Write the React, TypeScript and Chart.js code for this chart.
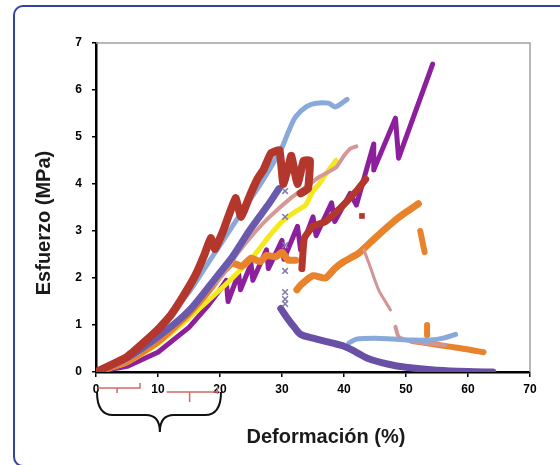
import React, { useEffect, useRef } from "react";
import { Chart, registerables } from "chart.js";
Chart.register(...registerables);

const xTicks = [0, 10, 20, 30, 40, 50, 60, 70];
const yTicks = [0, 1, 2, 3, 4, 5, 6, 7];
const xTitle = "Deformación (%)";
const yTitle = "Esfuerzo (MPa)";

// [deformación %, esfuerzo MPa]
const redMain = [[0, 0], [5, 0.32], [10, 0.9], [12, 1.2], [14, 1.6], [16, 2.05], [17.5, 2.5], [18.5, 2.85], [19.2, 2.62], [20.5, 3.0], [22.5, 3.7], [23.4, 3.3], [24.8, 3.75], [26, 4.1], [27, 4.3], [28.2, 4.65], [29.6, 4.72], [30.2, 4.0], [31, 4.35], [31.5, 4.6], [32.5, 4.0], [33.5, 4.5], [34.5, 4.5], [34.2, 3.9], [33, 3.8]];
const redUpper = [[33.2, 2.2], [33.6, 2.85], [35, 3.1], [37, 3.2], [39.5, 3.5], [42, 3.85], [43.5, 4.1]];
const redDot = [[42.9, 3.32]];
const violetMain = [[0, 0], [5, 0.3], [10, 0.75], [15, 1.3], [19, 1.95], [22, 2.45], [24.7, 3.0], [28, 3.6], [29.5, 3.9]];
const violetMarks = [[30.5, 3.85], [30.5, 3.3], [30.5, 2.7], [30.5, 2.15], [30.5, 1.7], [30.5, 1.55], [30.5, 1.45]];
const violetLow = [[29.8, 1.35], [31, 1.12], [32, 0.95], [33, 0.8], [35, 0.72], [38, 0.62], [40, 0.55], [42, 0.42], [44, 0.28], [47, 0.17], [50, 0.1], [55, 0.04], [60, 0.01], [64, 0]];
const blueMain = [[0, 0], [5, 0.35], [10, 0.95], [15, 1.7], [17, 2.1], [20, 2.7], [23.5, 3.4], [27, 4.1], [29.9, 4.75], [31, 5.1], [32.2, 5.43], [34, 5.65], [35.5, 5.72], [37.5, 5.72], [38.6, 5.64], [40.5, 5.8]];
const blueLow = [[40.8, 0.62], [42, 0.7], [45, 0.72], [48, 0.7], [51, 0.68], [54, 0.68], [56, 0.72], [58, 0.8]];
const pinkMain = [[0, 0], [5, 0.25], [10, 0.72], [15, 1.35], [20, 2.0], [23, 2.55], [25.8, 3.0], [28, 3.3], [31.6, 3.72], [34, 3.95], [36, 4.15], [38.7, 4.35], [40, 4.6], [41, 4.75], [42, 4.8]];
const pinkDrop = [[43.2, 2.6], [44, 2.32], [45.6, 1.74], [47.5, 1.32]];
const pinkTail = [[48.3, 0.96], [48.8, 0.75], [50, 0.68], [51.5, 0.64], [54, 0.6], [56.3, 0.57]];
const orangeMain = [[0, 0], [5, 0.22], [10, 0.65], [15, 1.25], [18, 1.7], [20, 2.05], [21, 2.2], [22, 2.32], [23.5, 2.25], [25, 2.42], [26.5, 2.35], [27.5, 2.48], [29, 2.45], [30, 2.55], [31, 2.38], [32.2, 2.38]];
const orangeMid = [[32.4, 1.75], [33, 1.85], [35, 2.05], [37, 2.0], [38.5, 2.2], [40, 2.35], [42.4, 2.53], [45, 2.85], [48, 3.2], [50, 3.4], [52, 3.58]];
const orangeDrop = [[52.3, 3.0], [53, 2.55]];
const orangeDot = [[53.4, 1.0], [53.4, 0.78]];
const orangeTail = [[51, 0.66], [54, 0.6], [57, 0.54], [60, 0.48], [62.5, 0.42]];
const yellowMain = [[0, 0], [5, 0.2], [10, 0.6], [15, 1.15], [20, 1.75], [22, 2.0], [25, 2.4], [28, 2.9], [30, 3.2], [32, 3.4], [33.8, 3.55], [35, 3.85], [36, 4.0], [37, 4.2], [38.7, 4.5]];
const purpleMain = [[0, 0], [5, 0.12], [10, 0.42], [15, 0.95], [18, 1.4], [20, 1.75], [21, 1.95], [21.3, 1.5], [23, 2.1], [23.3, 1.75], [25, 2.3], [25.3, 1.95], [27.5, 2.6], [27.8, 2.2], [30, 2.8], [30.3, 2.4], [32.5, 3.1], [33, 2.6], [35, 3.3], [35.5, 2.9], [38, 3.6], [38.5, 3.2], [41, 3.8], [42, 3.55], [44.8, 4.85], [44.8, 4.3], [48.3, 5.4], [48.8, 4.55], [54.3, 6.55]];

const FONT = "'Liberation Sans', Arial, sans-serif";

const seg = (pts: number[][], color: string, width: number, tension = 0.2) => ({
  data: pts.map(([x, y]) => ({ x, y })),
  borderColor: color,
  backgroundColor: color,
  borderWidth: width,
  showLine: true,
  pointRadius: 0,
  tension,
  borderCapStyle: "round",
  borderJoinStyle: "round",
  fill: false,
});

const decorPlugin = {
  id: "decor",
  afterDraw(chart: any) {
    const { ctx, chartArea: a, scales } = chart;
    const x = scales.x;
    const px = (v: number) => x.getPixelForValue(v);
    const b = a.bottom;
    ctx.save();
    // plot-area frame (top and right)
    ctx.strokeStyle = "#A69E9E";
    ctx.lineWidth = 1.5;
    ctx.beginPath();
    ctx.moveTo(a.left, a.top);
    ctx.lineTo(a.right, a.top);
    ctx.lineTo(a.right, a.bottom);
    ctx.stroke();
    // red brackets
    ctx.strokeStyle = "#D26A66";
    ctx.lineWidth = 1.5;
    ctx.beginPath();
    ctx.moveTo(px(0.3), b + 16);
    ctx.lineTo(px(7.1), b + 16);
    ctx.lineTo(px(7.1), b + 11);
    ctx.moveTo(px(3.4), b + 16);
    ctx.lineTo(px(3.4), b + 21);
    ctx.moveTo(px(11.4), b + 20);
    ctx.lineTo(px(19.6), b + 20);
    ctx.moveTo(px(19.6), b + 15);
    ctx.lineTo(px(19.6), b + 22);
    ctx.moveTo(px(15.1), b + 20);
    ctx.lineTo(px(15.1), b + 30);
    ctx.stroke();
    // curly brace
    const x0 = px(0) + 1, x1 = px(20) + 1, xm = px(10.3);
    ctx.strokeStyle = "#111";
    ctx.lineWidth = 2;
    ctx.beginPath();
    ctx.moveTo(x0, b + 20);
    ctx.quadraticCurveTo(x0, b + 43, x0 + 16, b + 43);
    ctx.lineTo(xm - 14, b + 43);
    ctx.quadraticCurveTo(xm, b + 43, xm, b + 60);
    ctx.quadraticCurveTo(xm, b + 43, xm + 14, b + 43);
    ctx.lineTo(x1 - 16, b + 43);
    ctx.quadraticCurveTo(x1, b + 43, x1, b + 20);
    ctx.stroke();
    // axis titles
    ctx.fillStyle = "#1a1a1a";
    ctx.font = `bold 20px ${FONT}`;
    ctx.textAlign = "center";
    ctx.textBaseline = "middle";
    ctx.fillText(xTitle, 326, 437);
    ctx.translate(44, 223);
    ctx.rotate(-Math.PI / 2);
    ctx.fillText(yTitle, 0, 0);
    ctx.restore();
  },
};

export default function App() {
  const ref = useRef<HTMLCanvasElement | null>(null);
  useEffect(() => {
    if (!ref.current) return;
    const tickFont = { family: FONT, size: 12, weight: "bold" as const };
    const chart = new Chart(ref.current, {
      type: "scatter",
      data: {
        datasets: [
          seg(redMain, "#B3372C", 8, 0.1),
          seg(redUpper, "#B3372C", 7, 0.1),
          { ...seg(redDot, "#B3372C", 0), showLine: false, pointRadius: 4, pointStyle: "rect" },
          seg(violetMain, "#6A5AAE", 7),
          { ...seg(violetMarks, "#7F7BA8", 1.5), showLine: false, pointRadius: 4, pointStyle: "crossRot", pointBorderWidth: 1.5 },
          seg(violetLow, "#6A4FA6", 7, 0.3),
          seg(blueMain, "#88A9D9", 5, 0.3),
          seg(blueLow, "#88A9D9", 5, 0.3),
          seg(pinkMain, "#D59896", 4),
          seg(pinkDrop, "#D39496", 3),
          seg(pinkTail, "#D39496", 4),
          seg(orangeMain, "#E8832B", 7, 0.15),
          seg(orangeMid, "#E8832B", 7, 0.2),
          seg(orangeDrop, "#E8832B", 6, 0),
          seg(orangeDot, "#E8832B", 6, 0),
          seg(orangeTail, "#E8832B", 6, 0.3),
          seg(yellowMain, "#F4E81E", 5, 0.2),
          seg(purpleMain, "#8C1F9C", 5, 0),
        ],
      },
      options: {
        responsive: false,
        animation: false,
        devicePixelRatio: 1,
        layout: { padding: { left: 0, top: 43, right: 30, bottom: 0 } },
        plugins: { legend: { display: false }, tooltip: { enabled: false } },
        scales: {
          x: {
            type: "linear",
            min: 0,
            max: 70,
            afterBuildTicks: (s: any) => { s.ticks = xTicks.map((v) => ({ value: v })); },
            afterFit: (s: any) => { s.height = 93; },
            ticks: { color: "#000", font: tickFont, padding: 5, maxRotation: 0 },
            grid: { display: true, drawOnChartArea: false, drawTicks: true, tickLength: 5, color: "#000", lineWidth: 1.5 },
            border: { display: true, color: "#000", width: 2.5 },
          },
          y: {
            type: "linear",
            min: 0,
            max: 7,
            afterBuildTicks: (s: any) => { s.ticks = yTicks.map((v) => ({ value: v })); },
            afterFit: (s: any) => { s.width = 96; },
            ticks: { color: "#000", font: tickFont, padding: 10 },
            grid: { display: true, drawOnChartArea: false, drawTicks: true, tickLength: 4, color: "#000", lineWidth: 1.5 },
            border: { display: true, color: "#000", width: 2.5 },
          },
        },
      },
      plugins: [decorPlugin],
    } as any);
    return () => chart.destroy();
  }, []);

  return (
    <div style={{ position: "fixed", left: 0, top: 0, width: 560, height: 465, background: "#fff", overflow: "hidden" }}>
      <div
        style={{
          position: "absolute",
          left: 13,
          top: 5,
          width: 580,
          height: 462,
          border: "2px solid #3541A3",
          borderRadius: 10,
          boxSizing: "border-box",
        }}
      />
      <canvas ref={ref} width={560} height={465} style={{ position: "absolute", left: 0, top: 0, width: 560, height: 465 }} />
    </div>
  );
}
